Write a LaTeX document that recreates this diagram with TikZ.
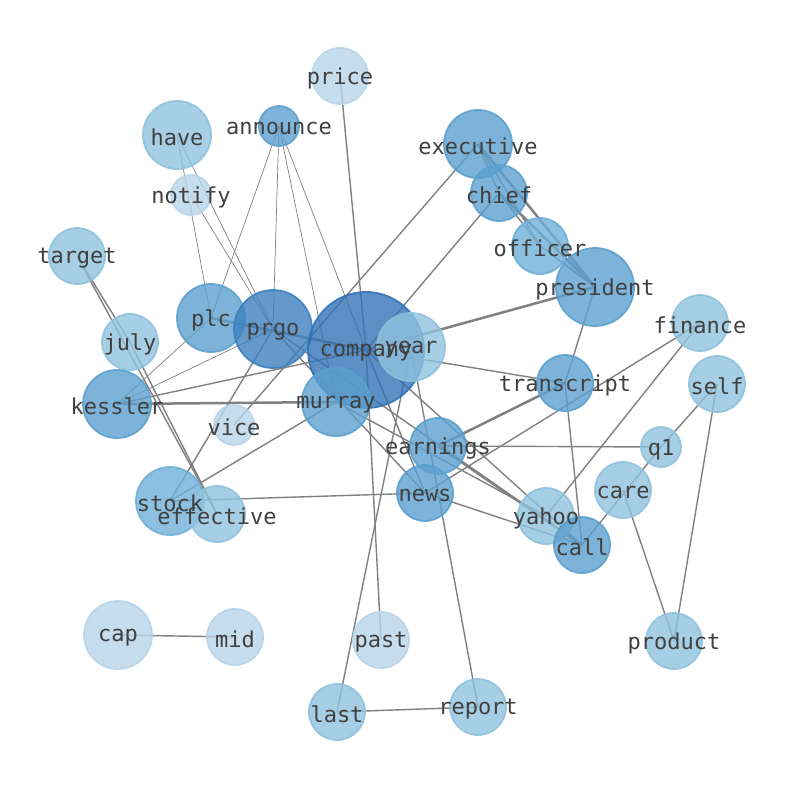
\documentclass[tikz,border=0pt]{standalone}
\usepackage{fontspec}
\newfontfamily\wordfont{DejaVu Sans Mono}
\usetikzlibrary{backgrounds}

\definecolor{wordA}{RGB}{50,115,182}
\definecolor{wordB}{RGB}{62,128,190}
\definecolor{wordC}{RGB}{92,160,207}
\definecolor{wordD}{RGB}{112,175,216}
\definecolor{wordE}{RGB}{144,194,221}
\definecolor{wordF}{RGB}{184,212,233}

\begin{document}
\begin{tikzpicture}[x=1pt, y=-1pt,
    word/.style={circle, draw, line width=1.8pt, inner sep=0pt, fill opacity=0.8, draw opacity=0.9},
    huge/.style={minimum size=116pt}, large/.style={minimum size=78pt},
    wide/.style={minimum size=68pt}, plain/.style={minimum size=56pt},
    small/.style={minimum size=40pt},
    dark/.style={fill=wordA, draw=wordA}, deep/.style={fill=wordB, draw=wordB},
    medium/.style={fill=wordC, draw=wordC}, soft/.style={fill=wordD, draw=wordD},
    pale/.style={fill=wordE, draw=wordE}, faint/.style={fill=wordF, draw=wordF},
    tag/.style={font=\wordfont\fontsize{22}{22}\selectfont, text=black!75, inner sep=0pt, yshift=-2.5pt},
    tie/.style={draw=black!50, line width=1.4pt},
    thin tie/.style={draw=black!50, line width=0.7pt},
    heavy tie/.style={draw=black!50, line width=2.5pt}]

\useasboundingbox (0,0) rectangle (794,790);

% words
\node[word, plain, faint] (price) at (340,76) {};
\node[word, small, medium] (announce) at (279,126) {};
\node[word, wide, pale] (have) at (177,135) {};
\node[word, small, faint] (notify) at (191,195) {};
\node[word, wide, medium] (executive) at (478,144) {};
\node[word, plain, medium] (chief) at (499,193) {};
\node[word, plain, pale] (target) at (77,256) {};
\node[word, plain, soft] (officer) at (540,246) {};
\node[word, large, medium] (president) at (595,287) {};
\node[word, wide, medium] (plc) at (211,318) {};
\node[word, large, deep] (prgo) at (273,329) {};
\node[word, huge, dark] (company) at (366,350) {};
\node[word, wide, pale] (year) at (411,347) {};
\node[word, plain, pale] (july) at (130,342) {};
\node[word, plain, pale] (finance) at (700,323) {};
\node[word, plain, pale] (self) at (717,384) {};
\node[word, wide, medium] (kessler) at (117,404) {};
\node[word, wide, medium] (murray) at (336,402) {};
\node[word, plain, medium] (transcript) at (565,383) {};
\node[word, small, faint] (vice) at (234,425) {};
\node[word, plain, medium] (earnings) at (438,446) {};
\node[word, small, pale] (q1) at (661,447) {};
\node[word, plain, pale] (care) at (623,490) {};
\node[word, wide, soft] (stock) at (170,501) {};
\node[word, plain, pale] (effective) at (217,514) {};
\node[word, plain, medium] (news) at (425,493) {};
\node[word, plain, pale] (yahoo) at (546,516) {};
\node[word, plain, medium] (call) at (582,545) {};
\node[word, wide, faint] (cap) at (118,635) {};
\node[word, plain, faint] (mid) at (235,637) {};
\node[word, plain, faint] (past) at (381,640) {};
\node[word, plain, pale] (product) at (674,641) {};
\node[word, plain, pale] (last) at (337,712) {};
\node[word, plain, pale] (report) at (478,707) {};

% labels on top
\foreach \w in {price, announce, have, notify, executive, chief, target, officer,
    president, plc, prgo, company, year, july, finance, self, kessler, murray,
    transcript, vice, earnings, q1, care, stock, effective, news, yahoo, call,
    cap, mid, past, product, last, report}
  \node[tag] (\w-text) at (\w) {\w};

% links
\begin{scope}[on background layer]
\draw[thin tie] (announce.center) -- (plc.center);
\draw[thin tie] (announce.center) -- (prgo.center);
\draw[thin tie] (announce.center) -- (murray.center);
\draw[thin tie] (announce.center) -- (company.center);
\draw[thin tie] (have.center) -- (plc.center);
\draw[thin tie] (have.center) -- (prgo.center);
\draw[thin tie] (notify.center) -- (prgo.center);
\draw[thin tie] (kessler.center) -- (plc.center);
\draw[thin tie] (kessler.center) -- (prgo.center);
\draw[tie] (price.center) -- (company.center);
\draw[tie] (company.center) -- (past.center);
\draw[tie] (year.center) -- (last.center);
\draw[tie] (year.center) -- (report.center);
\draw[tie] (last.center) -- (report.center);
\draw[tie] (executive.center) -- (vice.center);
\draw[tie] (executive.center) -- (chief.center);
\draw[tie] (executive.center) -- (officer.center);
\draw[tie] (chief.center) -- (officer.center);
\draw[tie] (officer.center) -- (president.center);
\draw[tie] (chief.center) -- (company.center);
\draw[tie] (company.center) -- (transcript.center);
\draw[tie] (president.center) -- (transcript.center);
\draw[tie] (transcript.center) -- (call.center);
\draw[tie] (earnings.center) -- (q1.center);
\draw[tie] (q1.center) -- (call.center);
\draw[tie] (self.center) -- (q1.center);
\draw[tie] (care.center) -- (product.center);
\draw[tie] (self.center) -- (product.center);
\draw[tie] (finance.center) -- (yahoo.center);
\draw[tie] (finance.center) -- (news.center);
\draw[tie] (news.center) -- (call.center);
\draw[tie] (company.center) -- (news.center);
\draw[tie] (company.center) -- (call.center);
\draw[tie] (prgo.center) -- (news.center);
\draw[tie] (prgo.center) -- (call.center);
\draw[tie] (murray.center) -- (yahoo.center);
\draw[tie] (kessler.center) -- (company.center);
\draw[tie] (stock.center) -- (prgo.center);
\draw[tie] (stock.center) -- (murray.center);
\draw[tie] (stock.center) -- (news.center);
\draw[tie] (target.center) -- (july.center);
\draw[tie] (target.center) -- (effective.center);
\draw[tie] (july.center) -- (effective.center);
\draw[tie] (cap.center) -- (mid.center);
\draw[heavy tie] (plc.center) -- (company.center);
\draw[heavy tie] (kessler.center) -- (murray.center);
\draw[heavy tie] (company.center) -- (president.center);
\draw[heavy tie] (executive.center) -- (president.center);
\draw[heavy tie] (chief.center) -- (president.center);
\draw[heavy tie] (transcript.center) -- (earnings.center);
\draw[heavy tie] (earnings.center) -- (call.center);
\end{scope}
\end{tikzpicture}
\end{document}
